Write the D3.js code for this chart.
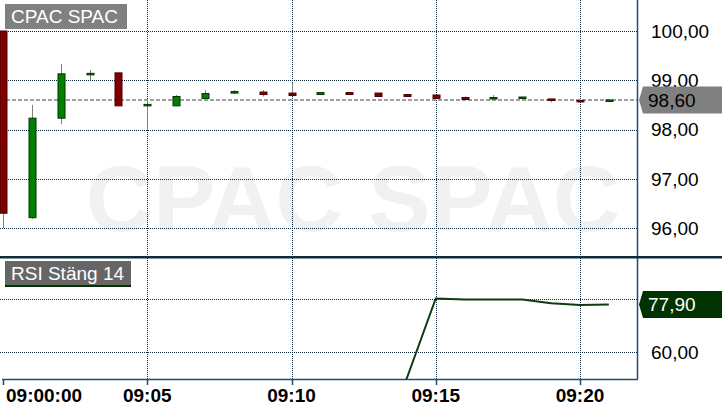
<!DOCTYPE html>
<html><head><meta charset="utf-8">
<script src="https://cdn.jsdelivr.net/npm/d3@7/dist/d3.min.js"></script>
<style>html,body{margin:0;padding:0;background:#fff;}svg{display:block;font-family:"Liberation Sans",Arial,sans-serif;}</style>
</head><body>
<script>
// ---- data ----
const minutes = [0,1,2,3,4,5,6,7,8,9,10,11,12,13,14,15,16,17,18,19,20,21];
const open  = [100.00,96.21,98.23,99.12,99.15,98.49,98.48,98.63,98.76,98.76,98.74,98.71,98.75,98.74,98.71,98.70,98.65,98.64,98.63,98.62,98.59,98.57];
const high  = [100.00,98.50,99.33,99.21,99.15,98.60,98.70,98.80,98.80,98.80,98.95,98.75,98.75,98.74,98.71,98.70,98.67,98.70,98.66,98.62,98.59,98.60];
const low   = [96.00,96.18,98.11,99.00,98.48,98.00,98.48,98.63,98.72,98.67,98.69,98.70,98.70,98.67,98.67,98.63,98.61,98.64,98.63,98.55,98.57,98.57];
const close = [96.30,98.23,99.13,99.14,98.48,98.51,98.67,98.73,98.77,98.71,98.69,98.75,98.71,98.67,98.67,98.63,98.61,98.65,98.66,98.59,98.57,98.60];
const rsiMinutes = [13,14,15,16,17,18,19,20,21];
const rsiValues  = [35.0,50.3,80.2,79.8,79.8,79.8,78.4,77.75,77.9];
const priceTicks = [96,97,98,99,100];
const rsiTicks = [60,80];
const rsiTickLabels = [60];   // 80,00 is hidden behind the last-value tag
const timeTicks = [0,5,10,15,20];
const timeTickLabels = ["09:00:00","09:05","09:10","09:15","09:20"];
const lastPrice = 98.60;
const lastRsi = 77.90;
const title = "CPAC SPAC";
const rsiTitle = "RSI Stäng 14";

// ---- layout ----
const W = 722, H = 411;
const plotR = 637;
const mainTop = 0, mainBot = 256, rsiTop = 258, rsiBot = 379;
const base = new Date(2024,0,1,9,0,0);
const t = m => new Date(base.getTime() + m*60000);
const x = d3.scaleTime().domain([t(0), t(20)]).range([3, 580]);
const y = d3.scaleLinear().domain([96,100]).range([228,31]);
const yr = d3.scaleLinear().domain([60,80]).range([352.3,299]);
const fmt = v => d3.format(".2f")(v).replace(".", ",");
const crisp = v => Math.round(v) + 0.5;
const GRID = "#082436";
const AXIS = "#274a70";

const svg = d3.select("body").append("svg").attr("width", W).attr("height", H);
const defs = svg.append("defs");
defs.append("clipPath").attr("id","cm").append("rect").attr("x",0).attr("y",mainTop).attr("width",plotR).attr("height",mainBot-mainTop);
defs.append("clipPath").attr("id","cr").append("rect").attr("x",0).attr("y",rsiTop).attr("width",plotR).attr("height",rsiBot-rsiTop);

// watermark
svg.append("text").attr("x",353).attr("y",231).attr("text-anchor","middle")
  .attr("font-size",93).attr("font-weight","bold").attr("fill","#f1f1f1").text(title);

// grid main
const gm = svg.append("g");
gm.selectAll("line.h").data(priceTicks).join("line")
  .attr("x1",0).attr("x2",plotR).attr("y1",d=>crisp(y(d))).attr("y2",d=>crisp(y(d)))
  .attr("stroke",GRID).attr("stroke-dasharray","1,1").attr("stroke-width",1);
gm.selectAll("line.v").data(timeTicks.slice(1)).join("line")
  .attr("x1",d=>crisp(x(t(d)))).attr("x2",d=>crisp(x(t(d)))).attr("y1",mainTop).attr("y2",mainBot)
  .attr("stroke",GRID).attr("stroke-dasharray","1,1");
// grid rsi
const gr = svg.append("g");
gr.selectAll("line.h").data(rsiTicks).join("line")
  .attr("x1",0).attr("x2",plotR).attr("y1",d=>crisp(yr(d))).attr("y2",d=>crisp(yr(d)))
  .attr("stroke",GRID).attr("stroke-dasharray","1,1");
gr.selectAll("line.v").data(timeTicks.slice(1)).join("line")
  .attr("x1",d=>crisp(x(t(d)))).attr("x2",d=>crisp(x(t(d)))).attr("y1",rsiTop).attr("y2",rsiBot)
  .attr("stroke",GRID).attr("stroke-dasharray","1,1");

// last price dashed line
svg.append("line").attr("x1",0).attr("x2",plotR).attr("y1",y(lastPrice)).attr("y2",y(lastPrice))
  .attr("stroke","#808080").attr("stroke-width",1.5).attr("stroke-dasharray","4,2");

// candles
const candles = minutes.map((m,i)=>({m,o:open[i],h:high[i],l:low[i],c:close[i]}));
const gc = svg.append("g").attr("clip-path","url(#cm)");
gc.selectAll("line.w").data(candles).join("line")
  .attr("x1",d=>crisp(x(t(d.m)))).attr("x2",d=>crisp(x(t(d.m))))
  .attr("y1",d=>y(d.h)).attr("y2",d=>y(d.l)).attr("stroke","#808080").attr("stroke-width",1);
gc.selectAll("rect").data(candles).join("rect")
  .attr("x",d=>Math.round(x(t(d.m)))-3).attr("width",7)
  .attr("y",d=>y(Math.max(d.o,d.c)))
  .attr("height",d=>Math.max(1.5, Math.abs(y(d.o)-y(d.c))))
  .attr("fill",d=>d.c>=d.o?"#008000":"#800000")
  .attr("stroke",d=>d.c>=d.o?"#003300":"#4a0000").attr("stroke-width",1);

// rsi line
const rsiData = rsiMinutes.map((m,i)=>({m,v:rsiValues[i]}));
svg.append("g").attr("clip-path","url(#cr)").append("path").datum(rsiData)
  .attr("d", d3.line().x(d=>x(t(d.m))).y(d=>yr(d.v)))
  .attr("fill","none").attr("stroke","#0d3a12").attr("stroke-width",2);

// borders
svg.append("line").attr("x1",plotR+0.5).attr("x2",plotR+0.5).attr("y1",0).attr("y2",rsiBot).attr("stroke",AXIS).attr("stroke-width",1.5);
svg.append("line").attr("x1",2).attr("x2",plotR+1).attr("y1",rsiBot+0.5).attr("y2",rsiBot+0.5).attr("stroke",AXIS).attr("stroke-width",1.5);
svg.append("rect").attr("x",0).attr("y",256).attr("width",W).attr("height",2.5).attr("fill","#0e2a3c");

// x ticks & labels
const gx = svg.append("g");
gx.selectAll("line").data(timeTicks).join("line")
  .attr("x1",d=>crisp(x(t(d)))).attr("x2",d=>crisp(x(t(d)))).attr("y1",rsiBot).attr("y2",rsiBot+6)
  .attr("stroke",AXIS).attr("stroke-width",1.5);
gx.selectAll("text").data(timeTicks).join("text")
  .attr("x",(d,i)=> i===0 ? 6 : x(t(d)))
  .attr("y",401.5).attr("text-anchor",(d,i)=>i===0?"start":"middle")
  .attr("font-size",19).attr("font-weight","bold").attr("fill","#000")
  .text((d,i)=>timeTickLabels[i]);

// y labels main
svg.append("g").selectAll("text").data(priceTicks).join("text")
  .attr("x",651).attr("y",d=>y(d)).attr("dy","0.36em").attr("font-size",19).attr("fill","#000").text(d=>fmt(d));
// y labels rsi
svg.append("g").selectAll("text").data(rsiTickLabels).join("text")
  .attr("x",651).attr("y",d=>yr(d)).attr("dy","0.36em").attr("font-size",19).attr("fill","#000").text(d=>fmt(d));

// value tags
function tag(cy, fill, txtColor, label){
  const top = cy-13.5, bot = cy+13.5;
  svg.append("polygon").attr("points",`639,${cy} 643,${top} ${W},${top} ${W},${bot} 643,${bot}`).attr("fill",fill);
  svg.append("text").attr("x",648).attr("y",cy).attr("dy","0.36em").attr("font-size",19).attr("fill",txtColor).text(label);
}
tag(y(lastPrice), "#808080", "#000", fmt(lastPrice));
tag(yr(lastRsi), "#003300", "#fff", fmt(lastRsi));

// title boxes
svg.append("rect").attr("x",5).attr("y",4).attr("width",122).attr("height",25).attr("fill","#808080");
svg.append("text").attr("x",11).attr("y",23).attr("font-size",19).attr("fill","#fff").text(title);
svg.append("rect").attr("x",5).attr("y",261).attr("width",126).attr("height",24).attr("fill","#666666");
svg.append("rect").attr("x",5).attr("y",285).attr("width",126).attr("height",2).attr("fill","#003300");
svg.append("text").attr("x",11).attr("y",280).attr("font-size",19).attr("fill","#fff").text(rsiTitle);
</script>
</body></html>
